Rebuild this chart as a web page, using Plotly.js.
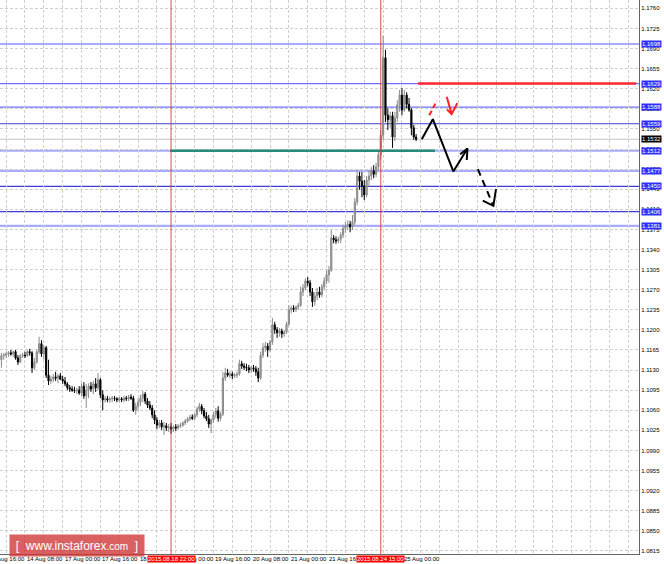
<!DOCTYPE html>
<html>
<head>
<meta charset="utf-8">
<script src="https://cdn.plot.ly/plotly-3.0.1.min.js"></script>
<style>
html, body { margin: 0; padding: 0; background: #fff; }
#chart { width: 664px; height: 564px; }
</style>
</head>
<body>
<div id="chart"></div>
<script>
// EURUSD H1, one bar per hour, 13 Aug 22:00 .. 25 Aug 06:00 (bar 0 .. 176)
const openP = [
    1.1148,1.1155,1.1156,1.1158,1.1160,1.1158,1.1162,1.1151,1.1144,1.1155,
    1.1156,1.1155,1.1162,1.1160,1.1134,1.1144,1.1162,1.1176,1.1158,1.1169,
    1.1121,1.1111,1.1114,1.1118,1.1116,1.1120,1.1114,1.1111,1.1106,1.1099,
    1.1097,1.1095,1.1094,1.1095,1.1090,1.1102,1.1085,1.1095,1.1102,1.1097,
    1.1106,1.1099,1.1113,1.1087,1.1078,1.1080,1.1078,1.1080,1.1081,1.1080,
    1.1078,1.1080,1.1078,1.1081,1.1080,1.1083,1.1081,1.1060,1.1067,1.1074,
    1.1081,1.1088,1.1076,1.1069,1.1064,1.1052,1.1043,1.1034,1.1038,1.1031,
    1.1033,1.1029,1.1031,1.1027,1.1031,1.1029,1.1033,1.1034,1.1038,1.1041,
    1.1045,1.1048,1.1046,1.1052,1.1062,1.1067,1.1059,1.1050,1.1045,1.1036,
    1.1043,1.1052,1.1059,1.1046,1.1053,1.1116,1.1125,1.1121,1.1123,1.1120,
    1.1121,1.1123,1.1141,1.1137,1.1135,1.1134,1.1130,1.1134,1.1132,1.1127,
    1.1116,1.1156,1.1169,1.1172,1.1165,1.1179,1.1209,1.1200,1.1195,1.1198,
    1.1193,1.1196,1.1210,1.1235,1.1238,1.1236,1.1240,1.1243,1.1266,1.1273,
    1.1285,1.1282,1.1266,1.1249,1.1259,1.1266,1.1261,1.1275,1.1285,1.1296,
    1.1304,1.1360,1.1357,1.1355,1.1358,1.1365,1.1377,1.1381,1.1384,1.1379,
    1.1388,1.1423,1.1468,1.1459,1.1451,1.1435,1.1461,1.1468,1.1477,1.1471,
    1.1484,1.1505,1.1539,1.1674,1.1574,1.1566,1.1573,1.1536,1.1569,1.1592,
    1.1609,1.1583,1.1609,1.1593,1.1583,1.1552,1.1536
];
const highP = [
    1.1160,1.1160,1.1162,1.1163,1.1165,1.1163,1.1165,1.1156,1.1158,1.1160,
    1.1162,1.1165,1.1167,1.1163,1.1151,1.1165,1.1188,1.1182,1.1174,1.1172,
    1.1148,1.1120,1.1123,1.1127,1.1123,1.1125,1.1120,1.1118,1.1109,1.1104,
    1.1102,1.1101,1.1099,1.1102,1.1107,1.1109,1.1106,1.1107,1.1109,1.1111,
    1.1116,1.1125,1.1116,1.1095,1.1085,1.1085,1.1083,1.1085,1.1085,1.1083,
    1.1083,1.1083,1.1085,1.1085,1.1087,1.1088,1.1085,1.1073,1.1081,1.1087,
    1.1094,1.1092,1.1081,1.1076,1.1069,1.1060,1.1048,1.1043,1.1043,1.1040,
    1.1038,1.1036,1.1038,1.1034,1.1036,1.1036,1.1038,1.1041,1.1045,1.1048,
    1.1052,1.1053,1.1055,1.1066,1.1073,1.1071,1.1064,1.1057,1.1052,1.1046,
    1.1057,1.1064,1.1067,1.1057,1.1127,1.1134,1.1132,1.1128,1.1127,1.1125,
    1.1127,1.1148,1.1146,1.1142,1.1141,1.1139,1.1137,1.1139,1.1137,1.1134,
    1.1162,1.1177,1.1179,1.1177,1.1182,1.1221,1.1214,1.1205,1.1203,1.1202,
    1.1200,1.1214,1.1243,1.1242,1.1243,1.1242,1.1247,1.1276,1.1280,1.1290,
    1.1292,1.1287,1.1273,1.1266,1.1273,1.1275,1.1280,1.1292,1.1304,1.1311,
    1.1374,1.1365,1.1363,1.1362,1.1370,1.1383,1.1388,1.1391,1.1390,1.1400,
    1.1430,1.1478,1.1475,1.1475,1.1461,1.1468,1.1478,1.1484,1.1487,1.1491,
    1.1513,1.1548,1.1712,1.1688,1.1586,1.1580,1.1580,1.1580,1.1600,1.1618,
    1.1621,1.1618,1.1614,1.1604,1.1586,1.1557,1.1541
];
const lowP = [
    1.1134,1.1148,1.1151,1.1153,1.1155,1.1153,1.1148,1.1139,1.1142,1.1151,
    1.1151,1.1153,1.1155,1.1125,1.1130,1.1141,1.1158,1.1153,1.1148,1.1116,
    1.1104,1.1106,1.1109,1.1111,1.1107,1.1113,1.1106,1.1102,1.1095,1.1092,
    1.1092,1.1090,1.1088,1.1087,1.1085,1.1080,1.1064,1.1081,1.1092,1.1088,
    1.1092,1.1095,1.1081,1.1060,1.1073,1.1074,1.1073,1.1074,1.1076,1.1074,
    1.1074,1.1074,1.1074,1.1076,1.1076,1.1078,1.1057,1.1052,1.1060,1.1067,
    1.1074,1.1071,1.1064,1.1060,1.1046,1.1036,1.1027,1.1029,1.1026,1.1017,
    1.1024,1.1022,1.1019,1.1022,1.1024,1.1026,1.1029,1.1031,1.1034,1.1038,
    1.1041,1.1043,1.1043,1.1048,1.1057,1.1053,1.1046,1.1041,1.1029,1.1020,
    1.1038,1.1046,1.1040,1.1041,1.1050,1.1111,1.1118,1.1116,1.1114,1.1116,
    1.1116,1.1120,1.1132,1.1130,1.1128,1.1125,1.1125,1.1127,1.1120,1.1109,
    1.1113,1.1151,1.1162,1.1153,1.1162,1.1174,1.1193,1.1186,1.1188,1.1186,
    1.1188,1.1193,1.1207,1.1229,1.1231,1.1231,1.1235,1.1240,1.1259,1.1269,
    1.1276,1.1259,1.1240,1.1242,1.1252,1.1256,1.1257,1.1269,1.1280,1.1282,
    1.1301,1.1351,1.1350,1.1351,1.1351,1.1360,1.1369,1.1374,1.1370,1.1374,
    1.1383,1.1417,1.1444,1.1431,1.1426,1.1431,1.1449,1.1461,1.1464,1.1466,
    1.1478,1.1496,1.1531,1.1562,1.1548,1.1552,1.1517,1.1529,1.1562,1.1580,
    1.1574,1.1580,1.1586,1.1580,1.1539,1.1531,1.1529
];
const closeP = [
    1.1155,1.1156,1.1158,1.1160,1.1158,1.1162,1.1151,1.1144,1.1155,1.1156,
    1.1155,1.1162,1.1160,1.1134,1.1144,1.1162,1.1176,1.1158,1.1169,1.1121,
    1.1111,1.1114,1.1118,1.1116,1.1120,1.1114,1.1111,1.1106,1.1099,1.1097,
    1.1095,1.1094,1.1095,1.1090,1.1102,1.1085,1.1095,1.1102,1.1097,1.1106,
    1.1099,1.1113,1.1087,1.1078,1.1080,1.1078,1.1080,1.1081,1.1080,1.1078,
    1.1080,1.1078,1.1081,1.1080,1.1083,1.1081,1.1060,1.1067,1.1074,1.1081,
    1.1088,1.1076,1.1069,1.1064,1.1052,1.1043,1.1034,1.1038,1.1031,1.1033,
    1.1029,1.1031,1.1027,1.1031,1.1029,1.1033,1.1034,1.1038,1.1041,1.1045,
    1.1048,1.1046,1.1052,1.1062,1.1067,1.1059,1.1050,1.1045,1.1036,1.1043,
    1.1052,1.1059,1.1046,1.1053,1.1116,1.1125,1.1121,1.1123,1.1120,1.1121,
    1.1123,1.1141,1.1137,1.1135,1.1134,1.1130,1.1134,1.1132,1.1127,1.1116,
    1.1156,1.1169,1.1172,1.1165,1.1179,1.1209,1.1200,1.1195,1.1198,1.1193,
    1.1196,1.1210,1.1235,1.1238,1.1236,1.1240,1.1243,1.1266,1.1273,1.1285,
    1.1282,1.1266,1.1249,1.1259,1.1266,1.1261,1.1275,1.1285,1.1296,1.1304,
    1.1360,1.1357,1.1355,1.1358,1.1365,1.1377,1.1381,1.1384,1.1379,1.1388,
    1.1423,1.1468,1.1459,1.1451,1.1435,1.1461,1.1468,1.1477,1.1471,1.1484,
    1.1505,1.1539,1.1674,1.1574,1.1566,1.1573,1.1536,1.1569,1.1592,1.1609,
    1.1583,1.1609,1.1593,1.1583,1.1552,1.1536,1.1532
];

// time axis labels (bar index -> text), one every 16 bars
const labelBars = [-6, 10, 26, 42, 58, 74, 90, 106, 122, 138, 154, 170];
const labelText = ["13 Aug 16:00", "14 Aug 08:00", "17 Aug 00:00", "17 Aug 16:00", "18 Aug 08:00", "19 Aug 00:00",
    "19 Aug 16:00", "20 Aug 08:00", "21 Aug 00:00", "21 Aug 16:00", "24 Aug 08:00", "25 Aug 00:00"];

// horizontal levels drawn on the chart
const levelPrices = [1.1698, 1.1629, 1.1588, 1.1559, 1.1512, 1.1477, 1.1450, 1.1406, 1.1381];
const levelKind = ["light", "mid", "mid", "dark", "light", "light", "dark", "dark", "light"];
const lastPrice = 1.1532;

// crosshair bars with their date stamps
const markBars = [72, 161];
const markText = ["2015.08.18 22:00", "2015.08.24 15:00"];

// drawn segments
const resistX = [176.8, 269.4], resistY = [1.1629, 1.1629];
const supportX = [71.6, 184.0], supportY = [1.1512, 1.1512];

// forecast arrows
const mainPathX = [178.4, 183.1, 191.8, 197.8];
const mainPathY = [1.1532, 1.1567, 1.1476, 1.1516];
const mainHeadX = [194.7, 197.8, 197.5];
const mainHeadY = [1.1506, 1.1516, 1.1496];
const nextPathX = [202.2, 208.8];
const nextPathY = [1.1480, 1.1416];
const nextHeadX = [204.3, 208.8, 209.9];
const nextHeadY = [1.1425, 1.1416, 1.1445];
const altUpX = [181.6, 184.8], altUpY = [1.1574, 1.1599];
const altDownX = [189.0, 191.1], altDownY = [1.1606, 1.1576];
const altHeadX = [189.1, 191.1, 193.5], altHeadY = [1.1584, 1.1576, 1.1595];

const bars = openP.map((_, i) => i);
const FONT = "Liberation Sans, Arial, sans-serif";
const X_RANGE = [-0.6, 270.6];

const levelStyle = {
    light: { color: "#a9abff", width: 2.2 },
    mid: { color: "#6e70ff", width: 1.4 },
    dark: { color: "#3c3cd8", width: 1.2 }
};

// grid every 8 bars; the time labels are written as annotations below
const gridBars = [];
for (let b = 2; b <= 266; b += 8) gridBars.push(b);

const traces = [
    {
        type: "candlestick",
        x: bars, open: openP, high: highP, low: lowP, close: closeP,
        increasing: { line: { color: "#8a8a8a", width: 1 }, fillcolor: "#a6a6a6" },
        decreasing: { line: { color: "#000000", width: 1 }, fillcolor: "#000000" },
        whiskerwidth: 0,
        hoverinfo: "skip"
    },
    { type: "scatter", mode: "lines", x: supportX, y: supportY, line: { color: "#268a7c", width: 2.5 } },
    { type: "scatter", mode: "lines", x: resistX, y: resistY, line: { color: "#ff2a2a", width: 2.5 } },
    { type: "scatter", mode: "lines", x: mainPathX, y: mainPathY, line: { color: "#000", width: 2 } },
    { type: "scatter", mode: "lines", x: mainHeadX, y: mainHeadY, line: { color: "#000", width: 2 } },
    { type: "scatter", mode: "lines", x: nextPathX, y: nextPathY, line: { color: "#000", width: 2, dash: "7px,5px" } },
    { type: "scatter", mode: "lines", x: nextHeadX, y: nextHeadY, line: { color: "#000", width: 2 } },
    { type: "scatter", mode: "lines", x: altUpX, y: altUpY, line: { color: "#ff2020", width: 2, dash: "5px,3px" } },
    { type: "scatter", mode: "lines", x: altDownX, y: altDownY, line: { color: "#ff2020", width: 2 } },
    { type: "scatter", mode: "lines", x: altHeadX, y: altHeadY, line: { color: "#ff2020", width: 2 } }
];

const shapes = [];
const annotations = [];

shapes.push({
    type: "line", xref: "paper", x0: 0, x1: 1, yref: "y", y0: lastPrice, y1: lastPrice,
    line: { color: "#c4c4c4", width: 1 }, layer: "below"
});
levelPrices.forEach((p, i) => {
    const st = levelStyle[levelKind[i]];
    shapes.push({
        type: "line", xref: "paper", x0: 0, x1: 1, yref: "y", y0: p, y1: p,
        line: { color: st.color, width: st.width }, layer: "below"
    });
    annotations.push({
        xref: "paper", x: 1, xanchor: "left", xshift: 2, yref: "y", y: p,
        text: p.toFixed(4), showarrow: false, bgcolor: "#2f2fff", borderpad: 0,
        font: { family: FONT, size: 6, color: "#ffffff" }
    });
});
annotations.push({
    xref: "paper", x: 1, xanchor: "left", xshift: 2, yref: "y", y: lastPrice,
    text: lastPrice.toFixed(4), showarrow: false, bgcolor: "#000000", borderpad: 0,
    font: { family: FONT, size: 6, color: "#ffffff" }
});

// time labels start at their bar, MT4 style (paper coords so the first,
// half-hidden one at the left edge is still drawn)
labelBars.forEach((b, i) => {
    annotations.push({
        xref: "paper", x: (b - X_RANGE[0]) / (X_RANGE[1] - X_RANGE[0]), xanchor: "left", xshift: 1,
        yref: "paper", y: 0, yanchor: "top", yshift: -1,
        text: labelText[i], showarrow: false, borderpad: 0,
        font: { family: FONT, size: 6, color: "#000" }
    });
});

markBars.forEach((b, i) => {
    shapes.push({
        type: "line", xref: "x", x0: b, x1: b, yref: "paper", y0: 0, y1: 1,
        line: { color: "#d83a3a", width: 0.9 }
    });
    annotations.push({
        xref: "x", x: b, yref: "paper", y: 0, yanchor: "top", yshift: -1,
        text: markText[i], showarrow: false, bgcolor: "#ff0000", borderpad: 0,
        font: { family: FONT, size: 6, color: "#ffffff" }
    });
});

// site stamp in the lower left corner
annotations.push({
    xref: "paper", x: 0.1205, yref: "paper", y: 0.016, xanchor: "center", yanchor: "middle",
    width: 132, height: 19,
    text: "[  www.instaforex<span style='font-size:10px'>.com</span>  ]",
    showarrow: false, bgcolor: "rgba(208,52,52,0.78)", borderpad: 1,
    font: { family: FONT, size: 12, color: "#ffffff" }
});

const layout = {
    width: 664,
    height: 564,
    margin: { l: 0, r: 25, t: 0, b: 10 },
    paper_bgcolor: "#ffffff",
    plot_bgcolor: "#ffffff",
    showlegend: false,
    hovermode: false,
    font: { family: FONT, size: 6, color: "#000" },
    xaxis: {
        range: X_RANGE,
        tickmode: "array",
        tickvals: gridBars,
        showticklabels: false,
        ticks: "",
        showgrid: true,
        gridcolor: "#cfcfcf",
        griddash: "3px,2px",
        gridwidth: 1,
        zeroline: false,
        showline: true,
        linecolor: "#666",
        linewidth: 1,
        rangeslider: { visible: false },
        automargin: false,
        fixedrange: true
    },
    yaxis: {
        side: "right",
        range: [1.08096, 1.17746],
        tick0: 1.0815,
        dtick: 0.0035,
        tickformat: ".4f",
        ticks: "",
        showgrid: true,
        gridcolor: "#cfcfcf",
        griddash: "3px,2px",
        gridwidth: 1,
        zeroline: false,
        showline: true,
        linecolor: "#666",
        linewidth: 1,
        tickfont: { family: FONT, size: 6, color: "#000" },
        automargin: false,
        fixedrange: true
    },
    shapes: shapes,
    annotations: annotations
};

Plotly.newPlot("chart", traces, layout, { displayModeBar: false, staticPlot: true });
</script>
</body>
</html>
